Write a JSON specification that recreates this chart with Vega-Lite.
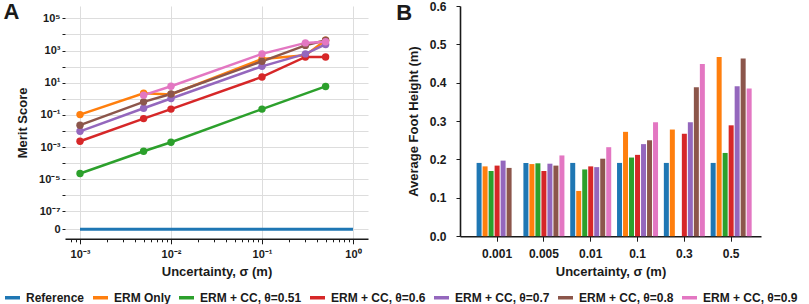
{
  "$schema": "https://vega.github.io/schema/vega-lite/v6.json",
  "padding": {"left": 3, "top": 0, "right": 0, "bottom": 0},
  "background": "white",
  "config": {
    "font": "Liberation Sans",
    "view": {"stroke": null},
    "axis": {
      "labelFont": "Liberation Sans", "labelFontSize": 12, "labelFontWeight": "bold", "labelColor": "#1a1a1a",
      "titleFont": "Liberation Sans", "titleFontSize": 13, "titleFontWeight": "bold", "titleColor": "#1a1a1a",
      "domainColor": "#1a1a1a", "domainWidth": 1.6, "tickColor": "#1a1a1a", "tickWidth": 1
    },
    "legend": {
      "labelFont": "Liberation Sans", "labelFontSize": 12, "labelFontWeight": "bold", "labelColor": "#1a1a1a",
      "orient": "none", "legendX": -62, "legendY": 282, "direction": "horizontal", "title": null,
      "symbolType": "stroke", "symbolSize": 225, "symbolStrokeWidth": 3.5,
      "labelOffset": 4, "columnPadding": 1
    },
    "title": {"font": "Liberation Sans", "fontSize": 22, "fontWeight": "bold", "color": "#1a1a1a", "anchor": "start", "frame": "bounds"}
  },
  "datasets": {
    "merit": [
      {"series": "Reference", "sigma": 0.001, "merit": 7.94e-9},
      {"series": "Reference", "sigma": 1.0, "merit": 7.94e-9},
      {"series": "ERM Only", "sigma": 0.001, "merit": 0.105},
      {"series": "ERM Only", "sigma": 0.005, "merit": 2.24},
      {"series": "ERM Only", "sigma": 0.01, "merit": 1.85},
      {"series": "ERM Only", "sigma": 0.1, "merit": 300},
      {"series": "ERM Only", "sigma": 0.3, "merit": 510},
      {"series": "ERM Only", "sigma": 0.5, "merit": 4400},
      {"series": "ERM + CC, θ=0.51", "sigma": 0.001, "merit": 2.3e-5},
      {"series": "ERM + CC, θ=0.51", "sigma": 0.005, "merit": 5.5e-4},
      {"series": "ERM + CC, θ=0.51", "sigma": 0.01, "merit": 2.0e-3},
      {"series": "ERM + CC, θ=0.51", "sigma": 0.1, "merit": 0.23},
      {"series": "ERM + CC, θ=0.51", "sigma": 0.5, "merit": 5.9},
      {"series": "ERM + CC, θ=0.6", "sigma": 0.001, "merit": 2.3e-3},
      {"series": "ERM + CC, θ=0.6", "sigma": 0.005, "merit": 0.059},
      {"series": "ERM + CC, θ=0.6", "sigma": 0.01, "merit": 0.23},
      {"series": "ERM + CC, θ=0.6", "sigma": 0.1, "merit": 23},
      {"series": "ERM + CC, θ=0.6", "sigma": 0.3, "merit": 400},
      {"series": "ERM + CC, θ=0.6", "sigma": 0.5, "merit": 400},
      {"series": "ERM + CC, θ=0.7", "sigma": 0.001, "merit": 0.0096},
      {"series": "ERM + CC, θ=0.7", "sigma": 0.005, "merit": 0.26},
      {"series": "ERM + CC, θ=0.7", "sigma": 0.01, "merit": 1.05},
      {"series": "ERM + CC, θ=0.7", "sigma": 0.1, "merit": 105},
      {"series": "ERM + CC, θ=0.7", "sigma": 0.3, "merit": 620},
      {"series": "ERM + CC, θ=0.7", "sigma": 0.5, "merit": 2400},
      {"series": "ERM + CC, θ=0.8", "sigma": 0.001, "merit": 0.023},
      {"series": "ERM + CC, θ=0.8", "sigma": 0.005, "merit": 0.65},
      {"series": "ERM + CC, θ=0.8", "sigma": 0.01, "merit": 2.0},
      {"series": "ERM + CC, θ=0.8", "sigma": 0.1, "merit": 215},
      {"series": "ERM + CC, θ=0.8", "sigma": 0.3, "merit": 2100},
      {"series": "ERM + CC, θ=0.8", "sigma": 0.5, "merit": 4400},
      {"series": "ERM + CC, θ=0.9", "sigma": 0.005, "merit": 1.7},
      {"series": "ERM + CC, θ=0.9", "sigma": 0.01, "merit": 6.1},
      {"series": "ERM + CC, θ=0.9", "sigma": 0.1, "merit": 620},
      {"series": "ERM + CC, θ=0.9", "sigma": 0.3, "merit": 3000},
      {"series": "ERM + CC, θ=0.9", "sigma": 0.5, "merit": 3500}
    ],
    "foot": [
      {"series": "Reference", "sigma": "0.001", "height": 0.191},
      {"series": "Reference", "sigma": "0.005", "height": 0.191},
      {"series": "Reference", "sigma": "0.01", "height": 0.191},
      {"series": "Reference", "sigma": "0.1", "height": 0.191},
      {"series": "Reference", "sigma": "0.3", "height": 0.191},
      {"series": "Reference", "sigma": "0.5", "height": 0.191},
      {"series": "ERM Only", "sigma": "0.001", "height": 0.182},
      {"series": "ERM Only", "sigma": "0.005", "height": 0.188},
      {"series": "ERM Only", "sigma": "0.01", "height": 0.118},
      {"series": "ERM Only", "sigma": "0.1", "height": 0.272},
      {"series": "ERM Only", "sigma": "0.3", "height": 0.278},
      {"series": "ERM Only", "sigma": "0.5", "height": 0.467},
      {"series": "ERM + CC, θ=0.51", "sigma": "0.001", "height": 0.170},
      {"series": "ERM + CC, θ=0.51", "sigma": "0.005", "height": 0.190},
      {"series": "ERM + CC, θ=0.51", "sigma": "0.01", "height": 0.174},
      {"series": "ERM + CC, θ=0.51", "sigma": "0.1", "height": 0.205},
      {"series": "ERM + CC, θ=0.51", "sigma": "0.5", "height": 0.217},
      {"series": "ERM + CC, θ=0.6", "sigma": "0.001", "height": 0.184},
      {"series": "ERM + CC, θ=0.6", "sigma": "0.005", "height": 0.170},
      {"series": "ERM + CC, θ=0.6", "sigma": "0.01", "height": 0.182},
      {"series": "ERM + CC, θ=0.6", "sigma": "0.1", "height": 0.212},
      {"series": "ERM + CC, θ=0.6", "sigma": "0.3", "height": 0.267},
      {"series": "ERM + CC, θ=0.6", "sigma": "0.5", "height": 0.289},
      {"series": "ERM + CC, θ=0.7", "sigma": "0.001", "height": 0.197},
      {"series": "ERM + CC, θ=0.7", "sigma": "0.005", "height": 0.189},
      {"series": "ERM + CC, θ=0.7", "sigma": "0.01", "height": 0.180},
      {"series": "ERM + CC, θ=0.7", "sigma": "0.1", "height": 0.240},
      {"series": "ERM + CC, θ=0.7", "sigma": "0.3", "height": 0.297},
      {"series": "ERM + CC, θ=0.7", "sigma": "0.5", "height": 0.391},
      {"series": "ERM + CC, θ=0.8", "sigma": "0.001", "height": 0.178},
      {"series": "ERM + CC, θ=0.8", "sigma": "0.005", "height": 0.184},
      {"series": "ERM + CC, θ=0.8", "sigma": "0.01", "height": 0.202},
      {"series": "ERM + CC, θ=0.8", "sigma": "0.1", "height": 0.250},
      {"series": "ERM + CC, θ=0.8", "sigma": "0.3", "height": 0.388},
      {"series": "ERM + CC, θ=0.8", "sigma": "0.5", "height": 0.463},
      {"series": "ERM + CC, θ=0.9", "sigma": "0.005", "height": 0.2105},
      {"series": "ERM + CC, θ=0.9", "sigma": "0.01", "height": 0.232},
      {"series": "ERM + CC, θ=0.9", "sigma": "0.1", "height": 0.297},
      {"series": "ERM + CC, θ=0.9", "sigma": "0.3", "height": 0.449},
      {"series": "ERM + CC, θ=0.9", "sigma": "0.5", "height": 0.385}
    ]
  },
  "spacing": 28,
  "hconcat": [
    {
      "width": 303,
      "height": 232.8,
      "title": {"text": "A", "dx": -13, "offset": -18},
      "data": {"name": "merit"},
      "encoding": {
        "x": {
          "field": "sigma", "type": "quantitative",
          "scale": {"type": "log", "domain": [0.000684, 1.462], "nice": false},
          "axis": {
            "title": "Uncertainty, σ (m)",
            "values": [0.0008, 0.0009, 0.001, 0.002, 0.003, 0.004, 0.005, 0.006, 0.007, 0.008, 0.009, 0.01, 0.02, 0.03, 0.04, 0.05, 0.06, 0.07, 0.08, 0.09, 0.1, 0.2, 0.3, 0.4, 0.5, 0.6, 0.7, 0.8, 0.9, 1],
            "labelExpr": "abs(datum.value - 0.001) < 1e-6 ? '10⁻³' : abs(datum.value - 0.01) < 1e-5 ? '10⁻²' : abs(datum.value - 0.1) < 1e-4 ? '10⁻¹' : abs(datum.value - 1) < 1e-3 ? '10⁰' : ''",
            "labelOverlap": false, "labelBound": false, "labelFlush": false,
            "labelFontSize": 11,
            "grid": true, "gridColor": "#dddddd",
            "gridOpacity": {"condition": {"test": "abs(log(datum.value)/LN10 - round(log(datum.value)/LN10)) < 0.01", "value": 1}, "value": 0},
            "tickSize": {"condition": {"test": "abs(log(datum.value)/LN10 - round(log(datum.value)/LN10)) < 0.01", "value": 5}, "value": 3},
            "labelPadding": 5, "titlePadding": 6
          }
        },
        "y": {
          "field": "merit", "type": "quantitative",
          "scale": {"type": "log", "domain": [2.0e-9, 5.89e5], "nice": false},
          "axis": {
            "title": "Merit Score",
            "values": [1e5, 1e4, 1e3, 100, 10, 1, 0.1, 0.01, 0.001, 1e-4, 1e-5, 1e-6, 1e-7, 7.94e-9],
            "labelExpr": "datum.value < 1e-8 ? '0' : datum.value > 5e4 ? '10⁵' : (datum.value > 500 && datum.value < 5000) ? '10³' : (datum.value > 5 && datum.value < 50) ? '10¹' : (datum.value > 0.05 && datum.value < 0.5) ? '10⁻¹' : (datum.value > 5e-4 && datum.value < 5e-3) ? '10⁻³' : (datum.value > 5e-6 && datum.value < 5e-5) ? '10⁻⁵' : (datum.value > 5e-8 && datum.value < 5e-7) ? '10⁻⁷' : ''",
            "labelOverlap": false, "labelBound": false, "labelFlush": false,
            "labelFontSize": 11,
            "grid": true, "gridColor": "#dddddd",
            "domain": false,
            "tickSize": 3, "labelPadding": 2, "titlePadding": 9
          }
        }
      },
      "layer": [
        {
          "transform": [{"filter": "datum.series !== 'Reference'"}],
          "mark": {"type": "line", "strokeWidth": 2.5, "point": {"filled": true, "size": 55, "opacity": 1}},
          "encoding": {
            "color": {"field": "series", "type": "nominal",
              "scale": {"domain": ["Reference", "ERM Only", "ERM + CC, θ=0.51", "ERM + CC, θ=0.6", "ERM + CC, θ=0.7", "ERM + CC, θ=0.8", "ERM + CC, θ=0.9"],
                        "range": ["#1f77b4", "#ff7f0e", "#2ca02c", "#d62728", "#9467bd", "#8c564b", "#e377c2"]}}
          }
        },
        {
          "transform": [{"filter": "datum.series === 'Reference'"}],
          "mark": {"type": "line", "strokeWidth": 3},
          "encoding": {
            "color": {"field": "series", "type": "nominal"}
          }
        },
        {
          "data": {"values": [{}]},
          "mark": {"type": "rule", "color": "#1a1a1a", "strokeWidth": 1.6},
          "encoding": {
            "x": {"datum": 0.000684},
            "y": {"datum": 2.0e-9},
            "y2": {"datum": 132000}
          }
        }
      ]
    },
    {
      "width": 301,
      "height": 230.2,
      "title": {"text": "B", "dx": -11, "offset": -25},
      "data": {"name": "foot"},
      "mark": {"type": "bar"},
      "encoding": {
        "x": {
          "field": "sigma", "type": "nominal",
          "sort": ["0.001", "0.005", "0.01", "0.1", "0.3", "0.5"],
          "scale": {"paddingInner": 0.124, "paddingOuter": 0.277, "align": 0.64},
          "axis": {"title": "Uncertainty, σ (m)", "labelAngle": 0, "tickSize": 5, "labelPadding": 7, "titlePadding": 6}
        },
        "xOffset": {
          "field": "series", "type": "nominal",
          "scale": {"domain": ["Reference", "ERM Only", "ERM + CC, θ=0.51", "ERM + CC, θ=0.6", "ERM + CC, θ=0.7", "ERM + CC, θ=0.8", "ERM + CC, θ=0.9"], "paddingInner": 0.167, "paddingOuter": 0}
        },
        "y": {
          "field": "height", "type": "quantitative",
          "scale": {"domain": [0, 0.6], "nice": false},
          "axis": {"title": "Average Foot Height (m)", "values": [0, 0.1, 0.2, 0.3, 0.4, 0.5, 0.6], "format": ".1f", "grid": false, "tickSize": 4, "labelPadding": 10, "titlePadding": 9}
        },
        "color": {
          "field": "series", "type": "nominal"
        }
      }
    }
  ]
}
